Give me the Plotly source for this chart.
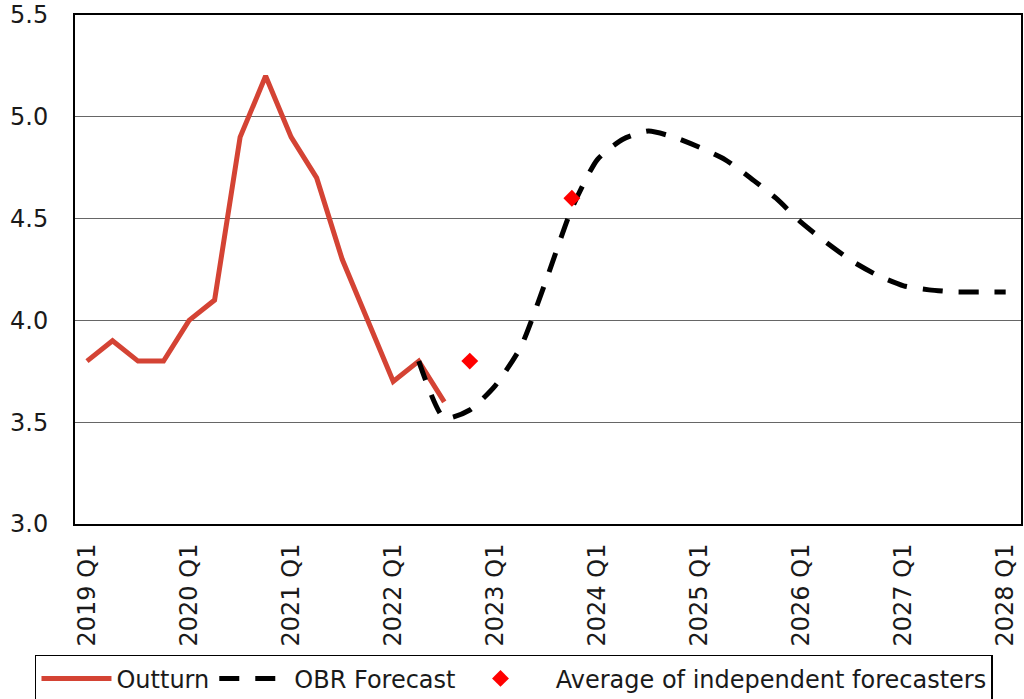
import plotly.graph_objects as go

quarters = [f"{y} Q{q}" for y in range(2019, 2029) for q in range(1, 5)][:37]

outturn = [3.8, 3.9, 3.8, 3.8, 4.0, 4.1, 4.9, 5.2, 4.9, 4.7, 4.3, 4.0, 3.7, 3.8, 3.6]
outturn_x = quarters[:len(outturn)]

obr = [3.8, 3.52, 3.56, 3.68, 3.87, 4.2, 4.55, 4.79, 4.89, 4.93, 4.9, 4.85, 4.79, 4.7,
       4.6, 4.48, 4.38, 4.29, 4.22, 4.17, 4.15, 4.14, 4.14, 4.14]
obr_x = quarters[13:13 + len(obr)]

indep_x = ["2022 Q4", "2023 Q4"]
indep = [3.8, 4.6]

tick_vals = quarters[::4]
tick_text = tick_vals

font = "DejaVu Sans"

fig = go.Figure()
fig.add_trace(go.Scatter(x=outturn_x, y=outturn, mode="lines", name="Outturn",
                         line=dict(color="#D44334", width=5)))
fig.add_trace(go.Scatter(x=obr_x, y=obr, mode="lines", name="OBR Forecast",
                         line=dict(color="black", width=5, dash="20px,16px", shape="spline", smoothing=0.6)))
fig.add_trace(go.Scatter(x=indep_x, y=indep, mode="markers",
                         name="\u00a0\u00a0Average of independent forecasters",
                         marker=dict(color="#FF0000", symbol="diamond", size=13)))

fig.update_layout(
    width=1024, height=699,
    margin=dict(l=75, r=3, t=15, b=175, autoexpand=False),
    plot_bgcolor="white", paper_bgcolor="white",
    font=dict(family=font, size=24, color="#1a1a1a"),
    showlegend=True,
    legend=dict(orientation="h", x=-0.0423, y=-0.257, xanchor="left", yanchor="top",
                bordercolor="black", borderwidth=1.5, font=dict(size=24),
                itemwidth=70, tracegroupgap=0),
)
fig.update_xaxes(type="category", categoryorder="array", categoryarray=quarters,
                 range=[-0.47, 36.6], tickvals=tick_vals, ticktext=tick_text,
                 tickangle=-90, showgrid=False, showline=True, linecolor="black",
                 linewidth=2, mirror=True, ticks="", ticklabelstandoff=8, automargin=False)
fig.update_yaxes(range=[3.0, 5.5], dtick=0.5, tickformat=".1f", showgrid=True,
                 gridcolor="#666666", gridwidth=1, showline=True, linecolor="black",
                 linewidth=2, mirror=True, ticks="", zeroline=False, ticklabelstandoff=20,
                 automargin=False)

fig.write_html("out.html", config={"displayModeBar": False},
               post_script="document.body.style.margin='0';")
